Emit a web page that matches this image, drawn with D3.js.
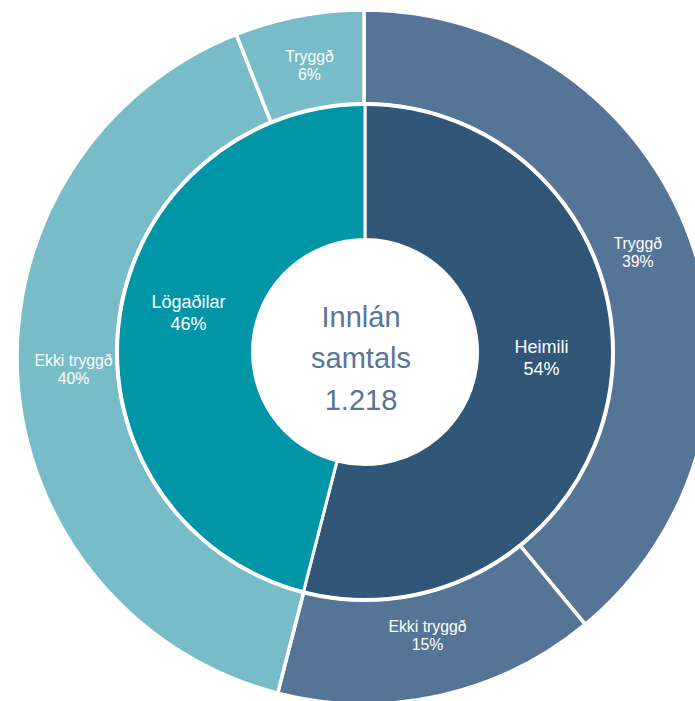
<!DOCTYPE html>
<html>
<head>
<meta charset="utf-8">
<script src="https://cdn.jsdelivr.net/npm/d3@7"></script>
<style>
  html, body { margin: 0; padding: 0; background: #fff; }
  svg { display: block; }
  text { font-family: "Liberation Sans", Arial, sans-serif; }
</style>
</head>
<body>
<svg id="chart" width="695" height="701"></svg>
<script>
// Inner ring: deposits by holder group (% of total)
const groups = ["Heimili", "Lögaðilar"];
const groupShares = [54, 46];
const groupColors = ["#325678", "#0096A8"];

// Outer ring: insured / uninsured split within each group (% of total)
const segmentLabels = ["Tryggð", "Ekki tryggð", "Ekki tryggð", "Tryggð"];
const segmentShares = [39, 15, 40, 6];
const segmentColors = ["#567496", "#567496", "#78BCC8", "#78BCC8"];

// Centre caption
const centerLines = ["Innlán", "samtals", "1.218"];

const svg = d3.select("#chart");

const pie = d3.pie().sort(null).value(d => d);

// ---- Outer ring (drawn first, its inner edge sits beneath the inner ring)
const outerCx = 364, outerCy = 357;
const outerArc = d3.arc().innerRadius(200).outerRadius(347);
const outerLabelArc = d3.arc().innerRadius(291).outerRadius(291);

const outerG = svg.append("g").attr("transform", `translate(${outerCx},${outerCy})`);
const outerData = pie(segmentShares);
outerG.selectAll("path")
  .data(outerData)
  .join("path")
  .attr("d", outerArc)
  .attr("fill", (d, i) => segmentColors[i])
  .attr("stroke", "#fff")
  .attr("stroke-width", 3.5);

// ---- Inner ring
const innerCx = 365, innerCy = 352;
const innerArc = d3.arc().innerRadius(112.5).outerRadius(248);
const innerLabelArc = d3.arc().innerRadius(178).outerRadius(178);

const innerG = svg.append("g").attr("transform", `translate(${innerCx},${innerCy})`);
const innerData = pie(groupShares);
innerG.selectAll("path")
  .data(innerData)
  .join("path")
  .attr("d", innerArc)
  .attr("fill", (d, i) => groupColors[i])
  .attr("stroke", "#fff")
  .attr("stroke-width", 3);
innerG.append("circle")
  .attr("r", 248)
  .attr("fill", "none")
  .attr("stroke", "#fff")
  .attr("stroke-width", 4);

// Two-line label (name + percentage) centred on a point
function twoLineLabel(g, x, y, name, pct, fs, lh) {
  const capH = 0.716 * fs;
  const base2 = y + (lh + capH) / 2;
  const base1 = base2 - lh;
  const t = g.append("g").attr("fill", "#fff").attr("font-size", fs).attr("text-anchor", "middle");
  t.append("text").attr("x", x).attr("y", base1).text(name);
  t.append("text").attr("x", x).attr("y", base2).text(pct + "%");
}

outerData.forEach((d, i) => {
  const [x, y] = outerLabelArc.centroid(d);
  twoLineLabel(outerG, x, y - 6, segmentLabels[i], segmentShares[i], 15.8, 18);
});

innerData.forEach((d, i) => {
  const [x, y] = innerLabelArc.centroid(d);
  twoLineLabel(innerG, x, y - 17, groups[i], groupShares[i], 18, 21.5);
});

// ---- Centre caption
const capG = innerG.append("g")
  .attr("fill", "#5A7496")
  .attr("font-size", 29)
  .attr("text-anchor", "middle");
centerLines.forEach((line, i) => {
  capG.append("text")
    .attr("x", -4)
    .attr("y", 16 + (i - 1) * 41.5)
    .text(line);
});
</script>
</body>
</html>
